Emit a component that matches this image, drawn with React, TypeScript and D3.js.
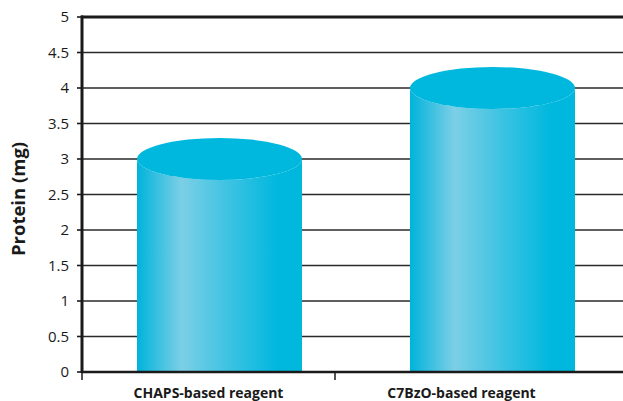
import React from "react";
import * as d3 from "d3";

const categories = ["CHAPS-based reagent", "C7BzO-based reagent"];
const proteinValues = [3, 4];
const yTicks = [0, 0.5, 1, 1.5, 2, 2.5, 3, 3.5, 4, 4.5, 5];
const yTickLabels = ["0", "0.5", "1", "1.5", "2", "2.5", "3", "3.5", "4", "4.5", "5"];
const yTitle = "Protein (mg)";

const W = 623;
const H = 401;
const FONT = "'Open Sans', 'Noto Sans', sans-serif";

export default function App() {
  const y = d3.scaleLinear().domain([0, 5]).range([372, 17]);
  const xAxis = d3.scaleBand<string>().domain(categories).range([82, 588]).padding(0);
  const xBar = d3.scaleBand<string>().domain(categories).range([137, 575]).paddingInner(0.3956).paddingOuter(0);
  const bw = xBar.bandwidth();
  const ry = 21;

  return (
    <svg width={W} height={H} style={{ position: "absolute", left: 0, top: 0, background: "#fff" }}>
      <defs>
        <linearGradient id="cyl" x1="0" x2="1" y1="0" y2="0">
          <stop offset="0" stopColor="#00b3db" />
          <stop offset="0.27" stopColor="#7ccfe6" />
          <stop offset="0.55" stopColor="#3ec3e2" />
          <stop offset="0.85" stopColor="#00b8de" />
          <stop offset="1" stopColor="#00b8de" />
        </linearGradient>
      </defs>
      {/* gridlines */}
      {yTicks.filter((t) => t > 0 && t < 5).map((t) => (
        <line key={t} x1={82} x2={W} y1={y(t)} y2={y(t)} stroke="#2a2a2a" strokeWidth={1.6} />
      ))}
      {/* top border */}
      <line x1={81} x2={W} y1={y(5)} y2={y(5)} stroke="#1a1a1a" strokeWidth={3} />
      {/* bars */}
      {categories.map((c, i) => {
        const x0 = xBar(c)!;
        const cx = x0 + bw / 2;
        const yt = y(proteinValues[i]);
        const yb = y(0);
        return (
          <g key={c}>
            <path
              d={`M${x0},${yt} L${x0},${yb} L${x0 + bw},${yb} L${x0 + bw},${yt} A${bw / 2},${ry} 0 0 1 ${x0},${yt} Z`}
              fill="url(#cyl)"
            />
            <ellipse cx={cx} cy={yt} rx={bw / 2} ry={ry} fill="#00b8de" />
          </g>
        );
      })}
      {/* x axis */}
      <line x1={81} x2={W} y1={y(0)} y2={y(0)} stroke="#1a1a1a" strokeWidth={2.5} />
      {categories.map((c) => xAxis(c)!).map((xv, i) => (
        <line key={i} x1={xv} x2={xv} y1={y(0)} y2={y(0) + 8} stroke="#1a1a1a" strokeWidth={1.5} />
      ))}
      {/* y axis */}
      <line x1={82} x2={82} y1={y(5) - 1.5} y2={y(0) + 1} stroke="#1a1a1a" strokeWidth={3} />
      {yTicks.map((t, i) => (
        <g key={t}>
          <line x1={77} x2={82} y1={y(t)} y2={y(t)} stroke="#1a1a1a" strokeWidth={1.6} />
          <text x={69} y={y(t)} dy="0.36em" textAnchor="end" fontFamily={FONT} fontSize={15} fill="#1a1a1a">
            {yTickLabels[i]}
          </text>
        </g>
      ))}
      {categories.map((c) => (
        <text key={c} x={xAxis(c)! + xAxis.bandwidth() / 2} y={398} textAnchor="middle" fontFamily={FONT} fontSize={14} fontWeight="bold" fill="#1a1a1a">
          {c}
        </text>
      ))}
      <text transform={`translate(25,199) rotate(-90)`} textAnchor="middle" fontFamily={FONT} fontSize={18.5} fontWeight="bold" fill="#1a1a1a">
        {yTitle}
      </text>
    </svg>
  );
}
